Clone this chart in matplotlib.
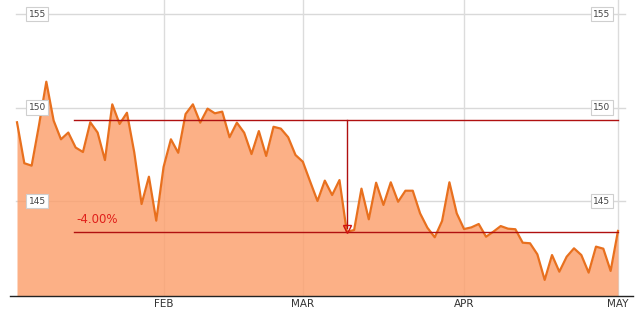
import matplotlib
matplotlib.use("Agg")
import matplotlib.pyplot as plt
import numpy as np

# ---- data ----
prices = [149.21, 147.02, 146.89, 149.05, 151.38, 149.30, 148.30, 148.66, 147.86, 147.62,
          149.21, 148.66, 147.19, 150.17, 149.12, 149.72, 147.60, 144.84, 146.30, 143.95,
          146.82, 148.30, 147.58, 149.65, 150.17, 149.19, 149.94, 149.69, 149.78, 148.41,
          149.19, 148.65, 147.51, 148.74, 147.41, 148.97, 148.87, 148.41, 147.46, 147.10,
          146.04, 145.00, 146.09, 145.32, 146.12, 143.35, 143.45, 145.66, 144.02, 145.98,
          144.79, 146.00, 144.96, 145.55, 145.55, 144.34, 143.57, 143.06, 143.93, 146.00,
          144.34, 143.50, 143.59, 143.77, 143.09, 143.36, 143.66, 143.52, 143.49, 142.77,
          142.74, 142.15, 140.78, 142.11, 141.22, 142.02, 142.47, 142.11, 141.17, 142.56,
          142.45, 141.26, 143.40]
month_labels = ["FEB", "MAR", "APR", "MAY"]
month_index = [20, 39, 61, 82]
y_ticks = [145, 150, 155]
ref_high = 149.33
drop_pct = -4.00
ref_low = ref_high * (1 + drop_pct / 100)
drop_index = 45
ref_start = 7.8

x = np.arange(len(prices))

fig = plt.figure(figsize=(6.37, 3.12), dpi=100)
ax = fig.add_axes([10 / 637, 16 / 312, 623 / 637, 296 / 312])
ax.set_xlim(-0.955, 84.05)
ax.set_ylim(139.92, 155.75)
for s in ["top", "right", "left"]:
    ax.spines[s].set_visible(False)
ax.spines["bottom"].set_color("#222222")
ax.spines["bottom"].set_linewidth(1.0)
ax.set_xticks([])
ax.set_yticks([])

# gridlines
for yt in y_ticks:
    ax.plot([-0.1, 82.96], [yt, yt], color="#d9d9d9", lw=1.0, zorder=1)
for mi in month_index:
    ax.axvline(mi, color="#dcdcdc", lw=1.0, zorder=1)

# area + line
ax.fill_between(x, prices, 139.92, color="#fc9f6c", alpha=0.82, lw=0, zorder=2)
ax.plot(x, prices, color="#e8701e", lw=1.6, zorder=3)

# reference lines
ax.plot([ref_start, x[-1]], [ref_high, ref_high], color="#b01010", lw=1.0, zorder=4)
ax.plot([ref_start, x[-1]], [ref_low, ref_low], color="#b01010", lw=1.0, zorder=4)
ax.plot([drop_index, drop_index], [ref_high, ref_low + 0.2], color="#b01010", lw=1.0, zorder=4)
ax.plot([drop_index], [ref_low + 0.13], marker="v", ms=5.5, mfc="none", mec="#d01010",
        mew=1.0, zorder=5)
ax.text(ref_start + 0.25, ref_low + 0.3, f"{drop_pct:.2f}%", color="#e0201b",
        fontsize=8.5, ha="left", va="bottom", zorder=6)

# y tick label boxes
bbox = dict(boxstyle="square,pad=0.3", fc="white", ec="#cfcfcf", lw=0.8)
for yt in y_ticks:
    ax.text(2.75, yt, str(yt), fontsize=6.5, color="#444444", ha="center", va="center",
            bbox=bbox, zorder=7)
    ax.text(79.8, yt, str(yt), fontsize=6.5, color="#444444", ha="center", va="center",
            bbox=bbox, zorder=7)

# month labels
for mi, lab in zip(month_index, month_labels):
    ax.text(mi, 139.92 - 0.15, lab, fontsize=7.5, color="#333333", ha="center", va="top",
            zorder=7, clip_on=False)

fig.savefig("out.png", dpi=100)
